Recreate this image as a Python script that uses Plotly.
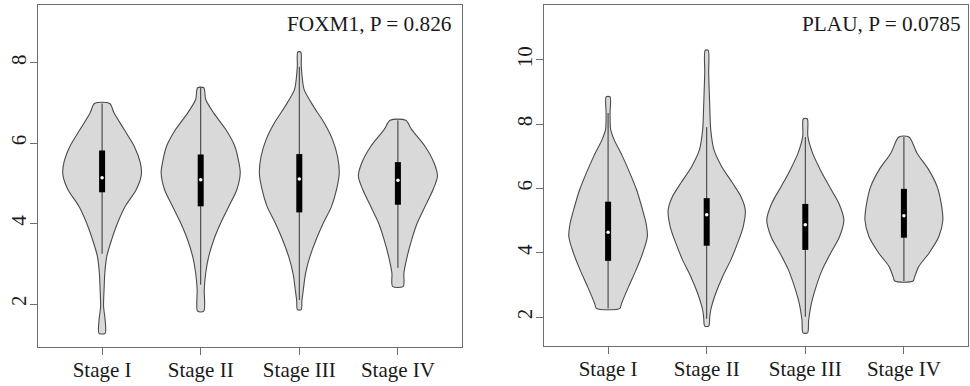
import plotly.graph_objects as go

stages = ["Stage I", "Stage II", "Stage III", "Stage IV"]
positions = [1, 2, 3, 4]

# ---- FOXM1 violin outlines: (value, half-width in category units) ----
foxm1_y = [
    [1.27, 1.60, 1.94, 2.36, 2.78, 3.19, 3.60, 4.02, 4.43, 4.85, 5.22, 5.51, 5.92, 6.34, 6.75, 6.99],
    [1.82, 2.36, 2.77, 3.19, 3.60, 4.02, 4.43, 4.85, 5.26, 5.51, 5.92, 6.34, 6.75, 7.09, 7.38],
    [1.86, 2.07, 2.36, 2.77, 3.19, 3.60, 4.02, 4.43, 4.85, 5.26, 5.67, 6.09, 6.51, 6.92, 7.34, 7.60, 7.92, 8.27],
    [2.44, 2.77, 3.19, 3.60, 4.02, 4.43, 4.85, 5.18, 5.51, 5.92, 6.34, 6.57],
]
foxm1_w = [
    [0.031, 0.031, 0.015, 0.020, 0.028, 0.048, 0.097, 0.158, 0.235, 0.347, 0.398, 0.388, 0.327, 0.224, 0.122, 0.077],
    [0.031, 0.036, 0.051, 0.082, 0.133, 0.204, 0.286, 0.367, 0.401, 0.388, 0.347, 0.255, 0.133, 0.051, 0.031],
    [0.020, 0.026, 0.041, 0.064, 0.109, 0.170, 0.245, 0.327, 0.378, 0.405, 0.388, 0.337, 0.252, 0.143, 0.048, 0.031, 0.020, 0.015],
    [0.054, 0.061, 0.095, 0.140, 0.197, 0.276, 0.357, 0.401, 0.367, 0.276, 0.140, 0.079],
]
# box stats: whisker low, Q1, median, Q3, whisker high
foxm1_wlo = [3.25, 2.48, 2.10, 2.90]
foxm1_q1 = [4.78, 4.43, 4.28, 4.47]
foxm1_med = [5.14, 5.09, 5.11, 5.08]
foxm1_q3 = [5.82, 5.72, 5.73, 5.53]
foxm1_whi = [6.99, 7.38, 7.90, 6.57]

# ---- PLAU ----
plau_y = [
    [2.27, 2.42, 2.94, 3.46, 3.98, 4.50, 4.92, 5.44, 5.96, 6.48, 7.00, 7.52, 7.83, 8.35, 8.85],
    [1.72, 2.00, 2.22, 2.74, 3.25, 3.78, 4.30, 4.81, 5.33, 5.75, 6.17, 6.68, 7.20, 7.83, 8.55, 9.59, 10.30],
    [1.51, 1.91, 2.42, 2.94, 3.46, 3.98, 4.50, 5.02, 5.54, 6.06, 6.58, 7.10, 7.62, 8.17],
    [3.12, 3.25, 3.57, 3.98, 4.50, 5.02, 5.54, 6.06, 6.58, 7.10, 7.60],
]
plau_w = [
    [0.119, 0.136, 0.207, 0.283, 0.350, 0.398, 0.385, 0.340, 0.289, 0.221, 0.146, 0.061, 0.026, 0.020, 0.020],
    [0.020, 0.031, 0.041, 0.092, 0.160, 0.245, 0.313, 0.370, 0.391, 0.347, 0.262, 0.153, 0.074, 0.041, 0.031, 0.020, 0.015],
    [0.023, 0.034, 0.061, 0.109, 0.170, 0.255, 0.347, 0.391, 0.340, 0.245, 0.153, 0.074, 0.026, 0.020],
    [0.092, 0.109, 0.150, 0.252, 0.354, 0.395, 0.378, 0.337, 0.252, 0.133, 0.051],
]
plau_wlo = [2.27, 1.95, 2.01, 3.12]
plau_q1 = [3.75, 4.22, 4.09, 4.47]
plau_med = [4.64, 5.18, 4.87, 5.15]
plau_q3 = [5.59, 5.70, 5.52, 5.99]
plau_whi = [8.35, 7.91, 7.60, 7.60]

panels = [
    dict(name="FOXM1, P = 0.826", ys=foxm1_y, ws=foxm1_w, wlo=foxm1_wlo, q1=foxm1_q1,
         med=foxm1_med, q3=foxm1_q3, whi=foxm1_whi, yrange=[0.93, 9.44], yticks=[2, 4, 6, 8],
         xdom=[38 / 970, 462 / 970], ydom=[1 - 347 / 386, 1 - 5 / 386], tx=0.981),
    dict(name="PLAU, P = 0.0785", ys=plau_y, ws=plau_w, wlo=plau_wlo, q1=plau_q1,
         med=plau_med, q3=plau_q3, whi=plau_whi, yrange=[1.10, 11.71], yticks=[2, 4, 6, 8, 10],
         xdom=[544 / 970, 968 / 970], ydom=[1 - 346 / 386, 1 - 5 / 386], tx=0.988),
]

FILL = "#d9d9d9"
OUTLINE = "#4a4a4a"
FRAME = "#6e6e6e"
TEXT = "#1a1a1a"
FONT = "Liberation Serif"

fig = go.Figure()

for k, p in enumerate(panels):
    xa = "x" if k == 0 else "x2"
    ya = "y" if k == 0 else "y2"
    for i, c in enumerate(positions):
        ys = p["ys"][i]
        ws = p["ws"][i]
        xs = [c - w for w in ws] + [c + w for w in reversed(ws)]
        yy = list(ys) + list(reversed(ys))
        xs.append(xs[0])
        yy.append(yy[0])
        fig.add_trace(go.Scatter(x=xs, y=yy, mode="lines", fill="toself", fillcolor=FILL,
                                 line=dict(color=OUTLINE, width=1.1, shape="spline", smoothing=0.8),
                                 xaxis=xa, yaxis=ya, hoverinfo="skip", showlegend=False))
        # whisker
        fig.add_trace(go.Scatter(x=[c, c], y=[p["wlo"][i], p["whi"][i]], mode="lines",
                                 line=dict(color="#333333", width=1), xaxis=xa, yaxis=ya,
                                 hoverinfo="skip", showlegend=False))
        # box
        fig.add_trace(go.Scatter(x=[c, c], y=[p["q1"][i], p["q3"][i]], mode="lines",
                                 line=dict(color="black", width=6), xaxis=xa, yaxis=ya,
                                 hoverinfo="skip", showlegend=False))
        # median
        fig.add_trace(go.Scatter(x=[c], y=[p["med"][i]], mode="markers",
                                 marker=dict(color="white", size=3.5, line=dict(width=0)),
                                 xaxis=xa, yaxis=ya, hoverinfo="skip", showlegend=False))

    axkw = dict(showline=True, mirror=True, linecolor=FRAME, linewidth=1.2, showgrid=False,
                zeroline=False, ticks="outside", ticklen=7, tickcolor=FRAME, tickwidth=1.2,
                tickfont=dict(family=FONT, size=21, color=TEXT))
    xkey = "xaxis" if k == 0 else "xaxis2"
    ykey = "yaxis" if k == 0 else "yaxis2"
    fig.update_layout(**{
        xkey: dict(domain=p["xdom"], range=[0.35, 4.65], tickvals=positions, ticktext=stages,
                   anchor=ya, ticklabelstandoff=-3, **axkw),
        ykey: dict(domain=p["ydom"], range=p["yrange"], tickvals=p["yticks"], tickangle=-90,
                   anchor=xa, ticklabelstandoff=-4, **axkw),
    })
    fig.add_annotation(text=p["name"], xref=f"{xa} domain", yref=f"{ya} domain",
                       x=p["tx"], y=0.944, xanchor="right", yanchor="middle", showarrow=False,
                       font=dict(family=FONT, size=21.3, color=TEXT))

fig.update_layout(width=970, height=386, autosize=False,
                  margin=dict(l=0, r=0, t=0, b=0),
                  paper_bgcolor="white", plot_bgcolor="white")

fig.write_html("out.html")
